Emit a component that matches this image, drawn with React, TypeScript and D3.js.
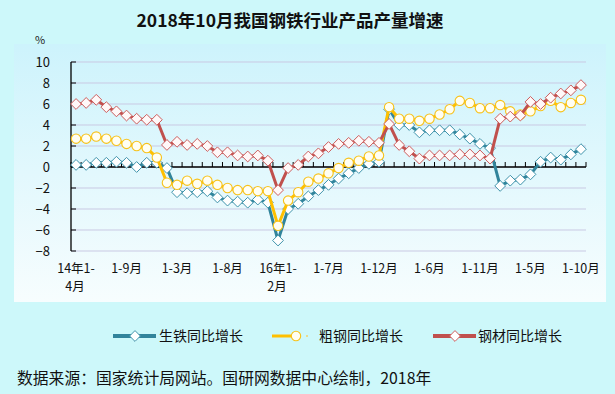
import React from "react";
import * as d3 from "d3";

const W = 615;
const H = 394;

const title = "2018年10月我国钢铁行业产品产量增速";
const unitLabel = "%";
const footer = "数据来源：国家统计局网站。国研网数据中心绘制，2018年";

// 51 monthly cumulative periods: 2014 1-4 .. 2018 1-10
const categories: string[] = [
  "14年1-4月", "1-5月", "1-6月", "1-7月", "1-8月", "1-9月", "1-10月", "1-11月", "1-12月",
  "15年1-2月", "1-3月", "1-4月", "1-5月", "1-6月", "1-7月", "1-8月", "1-9月", "1-10月", "1-11月", "1-12月",
  "16年1-2月", "1-3月", "1-4月", "1-5月", "1-6月", "1-7月", "1-8月", "1-9月", "1-10月", "1-11月", "1-12月",
  "17年1-2月", "1-3月", "1-4月", "1-5月", "1-6月", "1-7月", "1-8月", "1-9月", "1-10月", "1-11月", "1-12月",
  "18年1-2月", "1-3月", "1-4月", "1-5月", "1-6月", "1-7月", "1-8月", "1-9月", "1-10月",
];

// shown tick labels (line 1, line 2) at every 5th category
const tickLabelIdx = [0, 5, 10, 15, 20, 25, 30, 35, 40, 45, 50];
const tickLabels: string[][] = [
  ["14年1-", "4月"], ["1-9月"], ["1-3月"], ["1-8月"], ["16年1-", "2月"], ["1-7月"],
  ["1-12月"], ["1-6月"], ["1-11月"], ["1-5月"], ["1-10月"],
];

const yTicks = [-8, -6, -4, -2, 0, 2, 4, 6, 8, 10];

const pigIron: number[] = [
  0.2, 0.2, 0.4, 0.4, 0.5, 0.4, 0.0, 0.4, 0.4,
  -0.1, -2.4, -2.5, -2.4, -2.3, -2.9, -3.2, -3.3, -3.4, -3.1, -3.4,
  -7.0, -4.0, -3.5, -2.8, -2.2, -1.7, -1.1, -0.6, -0.1, 0.3, 0.5,
  5.5, 4.0, 4.0, 3.3, 3.5, 3.5, 3.5, 3.1, 2.7, 2.2, 1.8,
  -1.8, -1.3, -1.2, -0.7, 0.5, 0.9, 0.7, 1.2, 1.7,
];

const crudeSteel: number[] = [
  2.7, 2.7, 2.9, 2.7, 2.5, 2.2, 2.0, 1.8, 0.9,
  -1.5, -1.7, -1.3, -1.6, -1.3, -1.7, -2.0, -2.2, -2.2, -2.3, -2.3,
  -5.6, -3.2, -2.4, -1.4, -1.1, -0.6, -0.1, 0.4, 0.6, 1.0, 1.1,
  5.7, 4.6, 4.6, 4.4, 4.6, 5.0, 5.5, 6.3, 6.1, 5.6, 5.6,
  5.9, 5.3, 5.0, 5.3, 5.8, 6.3, 5.7, 6.1, 6.4,
];

const steelProducts: number[] = [
  6.0, 6.1, 6.4, 5.7, 5.3, 4.9, 4.6, 4.5, 4.5,
  2.1, 2.4, 2.1, 2.2, 2.0, 1.4, 1.4, 1.1, 1.0, 1.1, 0.6,
  -2.2, -0.1, 0.2, 1.0, 1.3, 1.9, 2.2, 2.3, 2.5, 2.4, 2.3,
  4.1, 2.1, 1.5, 0.8, 1.1, 1.1, 1.1, 1.2, 1.2, 1.1, 0.8,
  4.6, 4.8, 4.9, 6.2, 6.0, 6.6, 7.0, 7.3, 7.8,
];

const seriesNames = ["生铁同比增长", "粗钢同比增长", "钢材同比增长"];

const FONT = "'Noto Sans CJK SC', 'Noto Sans', sans-serif";

type Series = {
  name: string;
  values: number[];
  line: string;
  mStroke: string;
  mFill: string;
  marker: "diamond" | "circle";
};

const series: Series[] = [
  { name: seriesNames[0], values: pigIron, line: "#31849B", mStroke: "#3E93AB", mFill: "#FFFFFF", marker: "diamond" },
  { name: seriesNames[1], values: crudeSteel, line: "#FFC000", mStroke: "#F7C21A", mFill: "#FFFEF2", marker: "circle" },
  { name: seriesNames[2], values: steelProducts, line: "#C0504D", mStroke: "#CC5C5C", mFill: "#FFF8F8", marker: "diamond" },
];

const Marker = ({ kind, cx, cy, stroke, fill }: { kind: string; cx: number; cy: number; stroke: string; fill: string }) =>
  kind === "circle" ? (
    <circle cx={cx} cy={cy} r={4.7} fill={fill} stroke={stroke} strokeWidth={1.1} />
  ) : (
    <path
      d={`M${cx},${cy - 5.4}L${cx + 5.4},${cy}L${cx},${cy + 5.4}L${cx - 5.4},${cy}Z`}
      fill={fill}
      stroke={stroke}
      strokeWidth={1}
    />
  );

export default function App() {
  const left = 71;
  const right = 586;
  const x = d3.scaleBand<number>().domain(d3.range(categories.length)).range([left, right]).padding(0);
  const bw = x.bandwidth();
  const cx = (i: number) => (x(i) as number) + bw / 2;
  const y = d3.scaleLinear().domain([-8, 10]).range([251, 62]);

  const line = d3
    .line<number>()
    .x((_, i) => cx(i))
    .y((v) => y(v));

  const boundaries = d3.range(categories.length + 1).map((i) => left + i * bw);

  return (
    <svg
      width={W}
      height={H}
      style={{ position: "fixed", left: 0, top: 0, display: "block" }}
      fontFamily={FONT}
    >
      <defs>
        <linearGradient id="plotbg" x1="0" y1="0" x2="0" y2="1">
          <stop offset="0" stopColor="#CDF3FC" />
          <stop offset="1" stopColor="#F7FDFE" />
        </linearGradient>
      </defs>
      <rect x={0} y={0} width={W} height={H} fill="#CDF8FA" />
      <rect x={14} y={44} width={592} height={258} fill="url(#plotbg)" />

      <text x={290} y={27} textAnchor="middle" fontSize={17.5} fontWeight="bold" fill="#111">
        {title}
      </text>
      <text x={40} y={44} textAnchor="middle" fontSize={11} fill="#222">
        {unitLabel}
      </text>

      {/* gridlines */}
      {yTicks.map((t) => (
        <line key={"g" + t} x1={left} x2={right} y1={y(t)} y2={y(t)} stroke="#C9C9E3" strokeWidth={1} />
      ))}

      {/* y axis */}
      <line x1={left} x2={left} y1={y(10)} y2={y(-8)} stroke="#000" strokeWidth={1.3} />
      {yTicks.map((t) => (
        <g key={"yt" + t}>
          <line x1={left} x2={left + 5} y1={y(t)} y2={y(t)} stroke="#000" strokeWidth={1} />
          <text x={50} y={y(t)} dy="0.36em" textAnchor="end" fontSize={13} fill="#111">
            {t < 0 ? "−" + Math.abs(t) : String(t)}
          </text>
        </g>
      ))}

      {/* x axis at zero */}
      <line x1={left} x2={right} y1={y(0)} y2={y(0)} stroke="#000" strokeWidth={1.5} />
      {boundaries.map((bx, i) => (
        <line key={"xt" + i} x1={bx} x2={bx} y1={y(0)} y2={y(0) - 5} stroke="#000" strokeWidth={1} />
      ))}

      {/* series */}
      {series.map((s) => (
        <g key={s.name}>
          <path d={line(s.values) || ""} fill="none" stroke={s.line} strokeWidth={3} strokeLinejoin="round" />
          {s.values.map((v, i) => (
            <Marker key={i} kind={s.marker} cx={cx(i)} cy={y(v)} stroke={s.mStroke} fill={s.mFill} />
          ))}
        </g>
      ))}

      {/* x labels */}
      {tickLabelIdx.map((idx, k) => (
        <text key={"xl" + idx} x={cx(idx)} y={273} textAnchor="middle" fontSize={12.5} fill="#111">
          <tspan x={cx(idx)} y={273}>{tickLabels[k][0]}</tspan>
          {tickLabels[k][1] && (
            <tspan x={cx(idx) - 1} y={291}>{tickLabels[k][1]}</tspan>
          )}
        </text>
      ))}

      {/* legend */}
      <g>
        <line x1={113} x2={156} y1={336} y2={336} stroke={series[0].line} strokeWidth={4} />
        <Marker kind="diamond" cx={135} cy={336} stroke={series[0].mStroke} fill="#fff" />
        <text x={159} y={336} dy="0.36em" fontSize={14} fill="#111">{seriesNames[0]}</text>

        <line x1={272} x2={296} y1={336} y2={336} stroke={series[1].line} strokeWidth={3} />
        <Marker kind="circle" cx={296} cy={336} stroke={series[1].mStroke} fill="#FFFEF2" />
        <circle cx={307} cy={336} r={1} fill="#F3D36A" />
        <text x={319} y={336} dy="0.36em" fontSize={14} fill="#111">{seriesNames[1]}</text>

        <line x1={433} x2={476} y1={336} y2={336} stroke={series[2].line} strokeWidth={4} />
        <Marker kind="diamond" cx={455} cy={336} stroke={series[2].mStroke} fill="#fff" />
        <text x={478} y={336} dy="0.36em" fontSize={14} fill="#111">{seriesNames[2]}</text>
      </g>

      <text x={17} y={378} dy="0.36em" fontSize={15.8} fill="#111">
        {footer}
      </text>
    </svg>
  );
}
